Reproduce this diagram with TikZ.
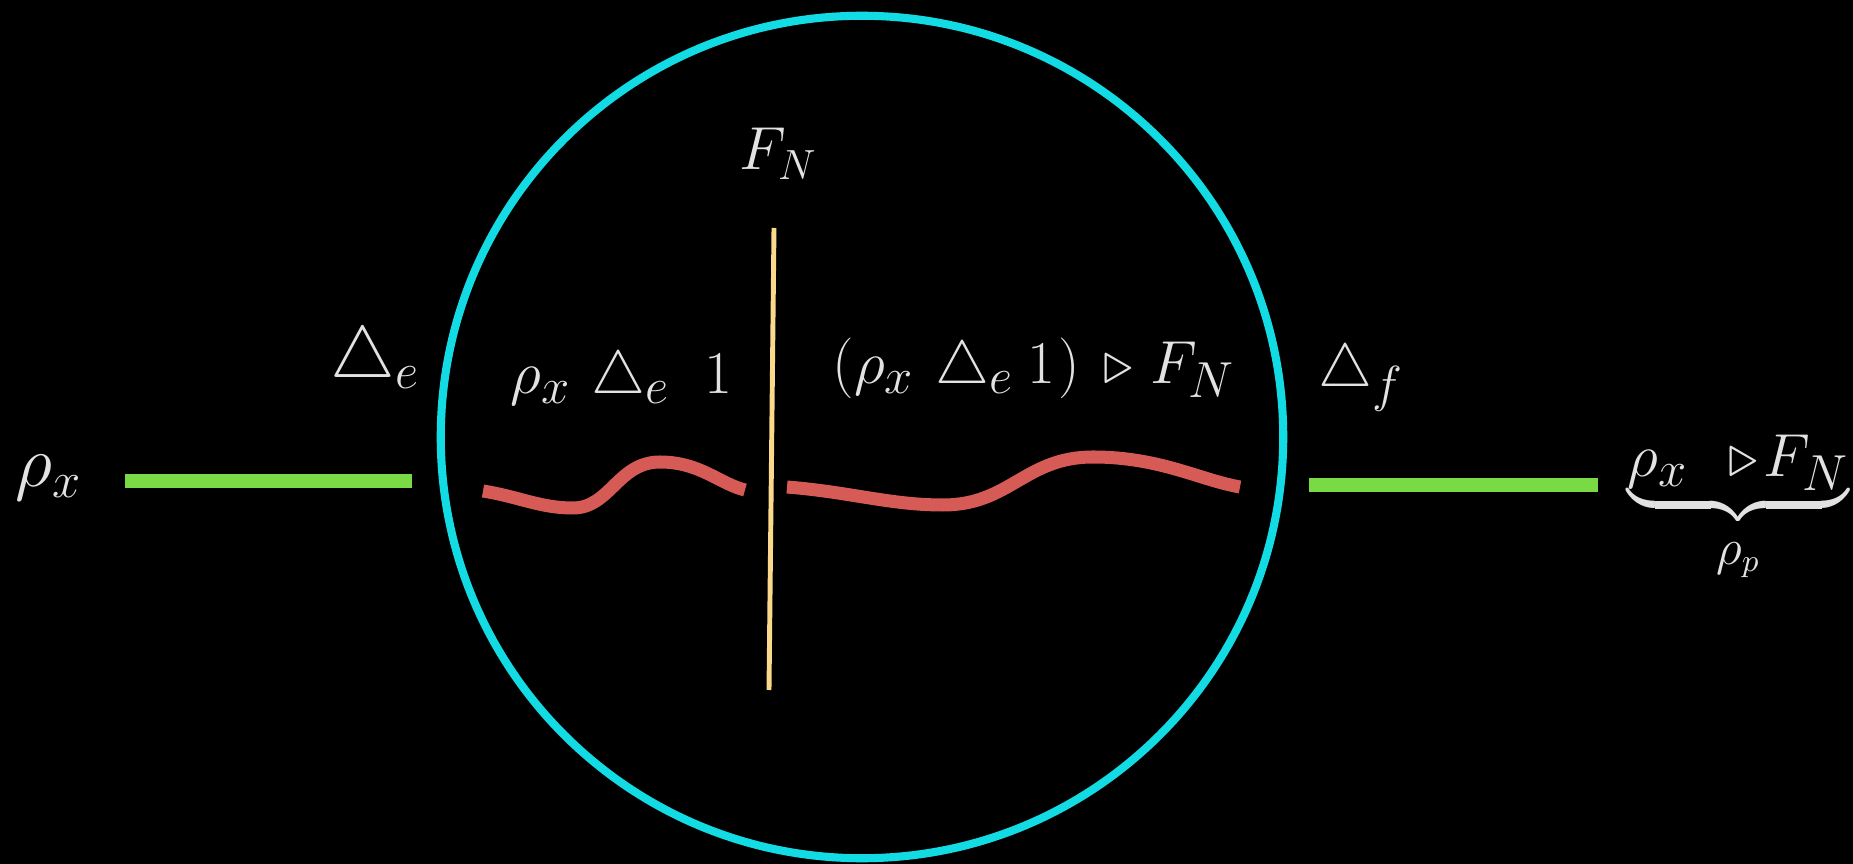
\documentclass[tikz,border=0pt]{standalone}
\usepackage{amsmath}
\definecolor{ringc}{HTML}{12DBE4}
\definecolor{greenc}{HTML}{7ADA45}
\definecolor{redc}{HTML}{D65A56}
\definecolor{yellc}{HTML}{FBD98C}
\definecolor{txtc}{HTML}{E2E2E2}
\tikzset{
  lbl/.style={text=txtc, inner sep=0pt, anchor=base west, font=\fontsize{#1}{24}\selectfont},
  lbl/.default=17,
  ring/.style={draw=ringc, line width=2.3pt},
  wire/.style={draw=greenc, line width=3.7pt},
  wave/.style={draw=redc, line width=3.7pt},
  cutline/.style={draw=yellc, line width=1.4pt},
}
\begin{document}
\begin{tikzpicture}[x=0.01cm,y=-0.01cm]
\fill[black] (0,0) rectangle (1853,864);
\useasboundingbox (0,0) rectangle (1853,864);
% ring
\node[ring, circle, minimum size=8.42cm, inner sep=0pt] (ring) at (862,437) {};
% labels
\node[lbl=20] (rhoL) at (15,487) {$\rho_x$};
\node[lbl=20] (de) at (330,378) {$\triangle_e$};
\node[lbl=19] (inL) at (510,394) {$\rho_x\mkern6mu\triangle_e\mkern10mu 1$};
\node[lbl=19] (inR) at (832,384) {$(\rho_x\mkern6mu\triangle_e\mkern4mu 1\mkern1mu)\mkern7mu\mathord{\triangleright}\mkern5mu F_N$};
\node[lbl] (fn) at (739,170) {$F_N$};
\node[lbl=19] (df) at (1318,387) {$\triangle_f$};
\node[lbl=19] (out) at (1627,477) {$\underbrace{\rho_x\mkern12mu\mathord{\triangleright}\mkern1.5mu F_N}_{\rule{0pt}{10pt}\rho_p}$};
% green wires
\coordinate (gL1) at (125,481);
\coordinate (gL2) at (412,481);
\coordinate (gR1) at (1309,485);
\coordinate (gR2) at (1598,485);
\draw[wire] (gL1) -- (gL2);
\draw[wire] (gR1) -- (gR2);
% yellow cut
\coordinate (yT) at (774,228);
\coordinate (yB) at (769,690);
\draw[cutline] (yT) -- (yB);
% red waves
\coordinate (wL1) at (483,491);
\coordinate (wL2) at (573,508);
\coordinate (wL3) at (660,462);
\coordinate (wL4) at (745,490);
\draw[wave] (wL1) .. controls (520,497) and (540,508) .. (wL2)
  .. controls (610,508) and (618,462) .. (wL3)
  .. controls (700,462) and (720,484) .. (wL4);
\coordinate (wR1) at (787,487);
\coordinate (wR2) at (943,505);
\coordinate (wR3) at (1093,457);
\coordinate (wR4) at (1240,487);
\draw[wave] (wR1) .. controls (850,492) and (890,505) .. (wR2)
  .. controls (1010,505) and (1025,457) .. (wR3)
  .. controls (1160,457) and (1200,480) .. (wR4);
\end{tikzpicture}
\end{document}
